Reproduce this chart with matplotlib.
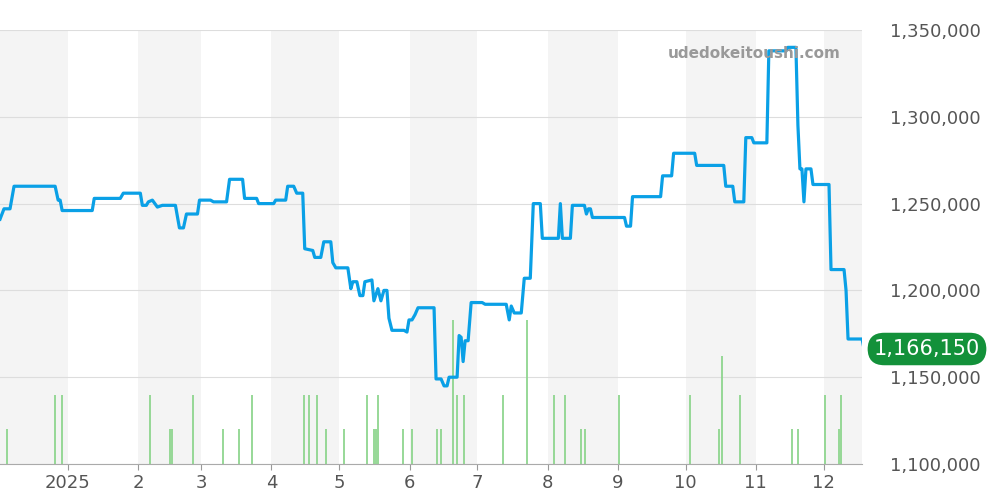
import numpy as np, pandas as pd
import matplotlib
matplotlib.use("Agg")
import matplotlib.pyplot as plt

START = pd.Timestamp("2024-12-02")
END = pd.Timestamp("2025-12-18")
PX_PER_DAY = 2.257  # reading scale used when measuring the reference

price_pos = [0,4,10,14,55,58,60,62,92,94,120,123,140,142,146,148,152,157,162,175,179,183,186,197,199,210,213,226,229,242,244,256,258,273,275,285,287,293,296,302,304,312,314,320,323,330,332,335,347,350,352,356,359,362,364,371,373,377,380,383,386,388,391,403,406,408,411,414,417,433,435,440,443,446,448,456,458,460,462,464,467,470,481,484,505,508,510,513,520,523,529,532,539,541,557,559,561,569,571,583,585,587,589,591,623,625,629,631,659,661,670,672,693,695,722,724,731,733,742,744,750,752,765,767,784,786,794,796,798,800,802,804,809,811,827,829,842,844,846,860,862]
price_val = [1241000,1247000,1247000,1260000,1260000,1252000,1252000,1246000,1246000,1253000,1253000,1256000,1256000,1249000,1249000,1251000,1252000,1248000,1249000,1249000,1236000,1236000,1244000,1244000,1252000,1252000,1251000,1251000,1264000,1264000,1253000,1253000,1250000,1250000,1252000,1252000,1260000,1260000,1256000,1256000,1224000,1223000,1219000,1219000,1228000,1228000,1216000,1213000,1213000,1201000,1205000,1205000,1197000,1197000,1205000,1206000,1194000,1201000,1194000,1200000,1200000,1184000,1177000,1177000,1176000,1183000,1183000,1186000,1190000,1190000,1149000,1149000,1145000,1145000,1150000,1150000,1174000,1173000,1159000,1171000,1171000,1193000,1193000,1192000,1192000,1183000,1191000,1187000,1187000,1207000,1207000,1250000,1250000,1230000,1230000,1250000,1230000,1230000,1249000,1249000,1244000,1247000,1247000,1242000,1242000,1237000,1237000,1254000,1254000,1266000,1266000,1279000,1279000,1272000,1272000,1260000,1260000,1251000,1251000,1288000,1288000,1285000,1285000,1338000,1338000,1340000,1340000,1295000,1270000,1270000,1251000,1270000,1270000,1261000,1261000,1212000,1212000,1200000,1172000,1172000,1166150]

vol_pos = [7,55,62,150,170,172,193,222,238,251,303,308,316,325,343,366,373,375,377,402,411,436,440,452,456,463,502,526,553,564,580,584,618,688,717,720,738,790,796,823,837,839]
vol_val = [2,4,4,4,2,2,4,2,2,4,4,4,4,2,2,4,2,2,4,2,2,2,2,8.3,4,4,4,8.3,4,4,2,2,4,4,2,6.2,4,2,2,4,2,4]

last_price = "1,166,150"
yticks = [1100000,1150000,1200000,1250000,1300000,1350000]
xtick_labels = ["2025","2","3","4","5","6","7","8","9","10","11","12"]

pdates = START + pd.to_timedelta(np.array(price_pos)/PX_PER_DAY, unit="D")
vdates = START + pd.to_timedelta(np.array(vol_pos)/PX_PER_DAY, unit="D")

fig = plt.figure(figsize=(10,5), dpi=100)
ax = fig.add_axes([0, 0.072, 0.862, 0.868])
ax.set_xlim(START, END)
ax.set_ylim(1100000, 1350000)

ax2 = ax.twinx()
ax2.set_ylim(0, 25)
ax2.set_xlim(START, END)
months = pd.date_range("2024-12-01", "2026-01-01", freq="MS")
for i in range(0, len(months)-1, 2):
    ax2.axvspan(months[i], months[i+1], color="#f4f4f4", zorder=0, lw=0)
for y in yticks:
    ax2.axhline((y-1100000)/250000*25, color="#dddddd", lw=0.8, zorder=1)
ax2.vlines(vdates, 0, vol_val, colors="#8fd68f", lw=1.3, zorder=2)
ax2.set_yticks([])
for s in ax2.spines.values(): s.set_visible(False)

ax.set_zorder(ax2.get_zorder()+1); ax.patch.set_visible(False)
ax.plot(pdates, price_val, color="#0aa0e6", lw=2.3, zorder=3)

ax.yaxis.tick_right()
ax.set_yticks(yticks)
ax.set_yticklabels([f"{v:,}" for v in yticks], fontsize=13, color="#555555")
ax.tick_params(axis="y", length=0, pad=20)
ticks = pd.date_range("2025-01-01", "2025-12-01", freq="MS")
ax.set_xticks(ticks)
ax.set_xticklabels(xtick_labels, fontsize=13, color="#555555")
ax.tick_params(axis="x", length=4, color="#999999")
for s in ["top","left","right"]: ax.spines[s].set_visible(False)
ax.spines["bottom"].set_color("#aaaaaa")

ax.text(0.975, 0.945, "udedokeitoushi.com", transform=ax.transAxes, ha="right", va="center",
        fontsize=11, fontweight="bold", color="#999999")
fig.text(0.927, 0.302, last_price, ha="center", va="center", fontsize=15, color="white",
         bbox=dict(boxstyle="round,pad=0.3,rounding_size=0.8", fc="#13913a", ec="none"))
fig.savefig("out.png")
